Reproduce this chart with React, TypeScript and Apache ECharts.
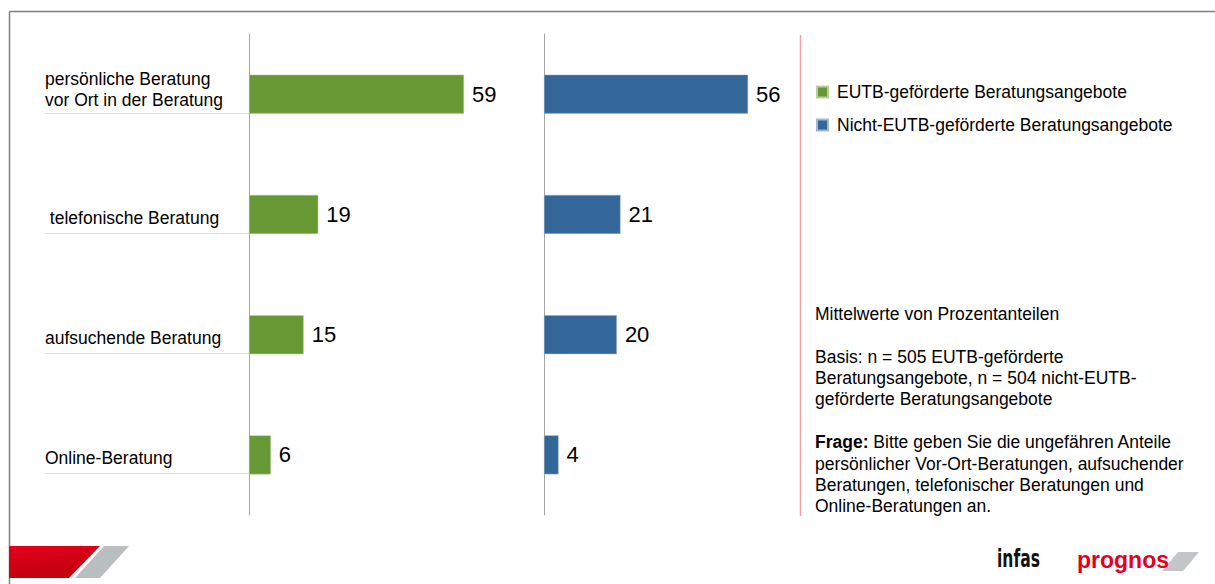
import React, { useEffect, useRef } from "react";
import * as echarts from "echarts";

const categories = [
  "persönliche Beratung\nvor Ort in der Beratung",
  " telefonische Beratung",
  "aufsuchende Beratung",
  "Online-Beratung",
];
const eutbValues = [59, 19, 15, 6];
const nichtEutbValues = [56, 21, 20, 4];
const seriesNames = ["EUTB-geförderte Beratungsangebote", "Nicht-EUTB-geförderte Beratungsangebote"];
const noteLines = [
  "Mittelwerte von Prozentanteilen",
  "",
  "Basis: n = 505 EUTB-geförderte",
  "Beratungsangebote, n = 504 nicht-EUTB-",
  "geförderte Beratungsangebote",
  "",
  "{b|Frage:} Bitte geben Sie die ungefähren Anteile",
  "persönlicher Vor-Ort-Beratungen, aufsuchender",
  "Beratungen, telefonischer Beratungen und",
  "Online-Beratungen an.",
];

const GREEN = "#669933";
const BLUE = "#336699";
const FONT = "'Liberation Sans', Arial, sans-serif";
const FS = 17.5;

export default function App() {
  const ref = useRef<HTMLDivElement>(null);
  useEffect(() => {
    if (!ref.current) return;
    const chart = echarts.init(ref.current, undefined, { renderer: "svg" });
    const gridTop = 34;
    const gridHeight = 481;
    const xMax = 80;
    const gridWidth = 3.644 * xMax;
    const sepYs = [113, 233, 353, 473];
    const valueAxis = (gi: number) => ({
      type: "value",
      gridIndex: gi,
      min: 0,
      max: xMax,
      show: false,
    });
    const catAxis = (gi: number, showLabels: boolean) => ({
      type: "category",
      gridIndex: gi,
      data: categories,
      inverse: true,
      axisLine: { show: true, lineStyle: { color: "#a6a6a6", width: 1 } },
      axisTick: { show: false },
      splitLine: { show: false },
      axisLabel: showLabels
        ? {
            show: true,
            align: "left",
            margin: 204,
            color: "#000",
            fontFamily: FONT,
            fontSize: FS,
            formatter: (v: string) => (v.indexOf("\n") >= 0 ? `{m|${v}}` : `{s|${v}}`),
            rich: {
              m: { fontSize: FS, lineHeight: 21, fontFamily: FONT, color: "#000", padding: [0, 0, 10, 0] },
              s: { fontSize: FS, lineHeight: 21, fontFamily: FONT, color: "#000", padding: [7, 0, 0, 0] },
            },
          }
        : { show: false },
    });
    const labelStyle = {
      show: true,
      position: "right",
      distance: 8,
      color: "#000",
      fontSize: 22,
      fontFamily: FONT,
    };
    chart.setOption({
      animation: false,
      backgroundColor: "#fff",
      grid: [
        { left: 249, top: gridTop, width: gridWidth, height: gridHeight },
        { left: 544, top: gridTop, width: gridWidth, height: gridHeight },
      ],
      xAxis: [valueAxis(0), valueAxis(1)],
      yAxis: [catAxis(0, true), catAxis(1, false)],
      legend: {
        orient: "vertical",
        left: 811,
        top: 78,
        itemWidth: 11,
        itemHeight: 11,
        itemGap: 15,
        icon: "rect",
        textStyle: { fontSize: FS, fontFamily: FONT, color: "#000", padding: [0, 0, 0, 4] },
        data: seriesNames,
      },
      series: [
        {
          name: seriesNames[0],
          type: "bar",
          xAxisIndex: 0,
          yAxisIndex: 0,
          data: eutbValues,
          barWidth: 39,
          itemStyle: { color: GREEN, borderColor: "#b8cfa0", borderWidth: 0.5 },
          label: labelStyle,
        },
        {
          name: seriesNames[1],
          type: "bar",
          xAxisIndex: 1,
          yAxisIndex: 1,
          data: nichtEutbValues,
          barWidth: 39,
          itemStyle: { color: BLUE, borderColor: "#a0b8d0", borderWidth: 0.5 },
          label: labelStyle,
        },
      ],
      graphic: [
        // frame
        { type: "line", shape: { x1: 9.5, y1: 11.5, x2: 1215, y2: 11.5 }, style: { stroke: "#808080", lineWidth: 1.5 } },
        { type: "line", shape: { x1: 9.5, y1: 11.5, x2: 9.5, y2: 584 }, style: { stroke: "#808080", lineWidth: 1.5 } },
        // separators under labels
        ...sepYs.map((y) => ({
          type: "line",
          shape: { x1: 45, y1: y + 0.5, x2: 249, y2: y + 0.5 },
          style: { stroke: "#d9dde0", lineWidth: 1 },
          z: 1,
        })),
        // red divider
        { type: "line", shape: { x1: 800.5, y1: 35, x2: 800.5, y2: 516 }, style: { stroke: "#f2a0a8", lineWidth: 1.5 } },
        // notes
        {
          type: "text",
          left: 815,
          top: 303,
          style: {
            text: noteLines.join("\n"),
            fontSize: FS,
            lineHeight: 21.4,
            fontFamily: FONT,
            fill: "#000",
            rich: { b: { fontWeight: "bold", fontSize: FS, fontFamily: FONT, fill: "#000", lineHeight: 21.4 } },
          },
        },
        // footer logos
        {
          type: "polygon",
          shape: { points: [[9, 546], [100, 546], [69, 578], [9, 578]] },
          style: {
            fill: new echarts.graphic.LinearGradient(0, 0, 0.3, 1, [
              { offset: 0, color: "#e3001b" },
              { offset: 1, color: "#c2000f" },
            ]),
          },
        },
        {
          type: "polygon",
          shape: { points: [[104, 546], [129, 546], [100, 578], [75, 578]] },
          style: { fill: "#b9bec1" },
        },
        {
          type: "text",
          x: 997,
          y: 559,
          scaleX: 0.72,
          style: {
            text: "infas",
            fontSize: 24,
            fontWeight: "bold",
            fontFamily: "'DejaVu Sans Condensed', 'Liberation Sans Narrow', sans-serif",
            fill: "#111",
            verticalAlign: "middle",
            align: "left",
          },
        },
        {
          type: "polygon",
          shape: { points: [[1178, 552], [1199, 552], [1183, 571], [1162, 571]] },
          style: { fill: "#c3c6c8" },
        },
        {
          type: "text",
          x: 1077,
          y: 560,
          style: {
            text: "prognos",
            fontSize: 23,
            fontWeight: "bold",
            fontFamily: FONT,
            fill: "#e3001b",
            verticalAlign: "middle",
            align: "left",
          },
        },
      ],
    });
    return () => chart.dispose();
  }, []);
  return (
    <div
      ref={ref}
      style={{ position: "fixed", left: 0, top: 0, width: 1215, height: 584, background: "#fff" }}
    />
  );
}
